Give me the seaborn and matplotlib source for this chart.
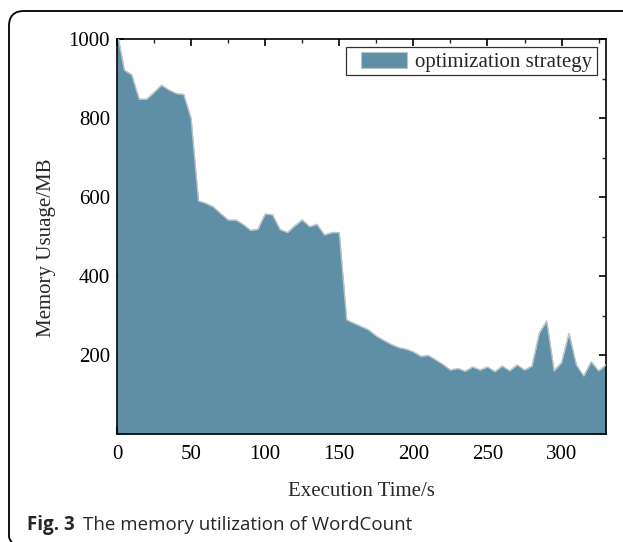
import matplotlib
matplotlib.use("Agg")
import matplotlib.pyplot as plt
import seaborn as sns
import pandas as pd
from matplotlib.patches import Patch, Rectangle
from matplotlib.path import Path
from matplotlib.patches import PathPatch

time_s = [0, 5, 10, 15, 20, 25, 30, 35, 40, 45, 50, 55, 60, 65, 70, 75, 80, 85, 90, 95,
          100, 105, 110, 115, 120, 125, 130, 135, 140, 145, 150, 155, 160, 165, 170, 175,
          180, 185, 190, 195, 200, 205, 210, 215, 220, 225, 230, 235, 240, 245, 250, 255,
          260, 265, 270, 275, 280, 285, 290, 295, 300, 305, 310, 315, 320, 325, 330]
memory_mb = [1020, 921, 909, 848, 848, 865, 883, 871, 862, 860, 799, 590, 584, 575, 558, 542,
             542, 531, 516, 518, 557, 555, 518, 510, 527, 542, 525, 531, 504, 510, 510, 289,
             280, 272, 263, 248, 237, 227, 219, 215, 208, 197, 199, 188, 176, 162, 166, 159,
             170, 162, 170, 158, 172, 160, 175, 162, 172, 256, 286, 160, 181, 255, 175, 147,
             183, 160, 175]
series_label = "optimization strategy"
x_ticks = [0, 50, 100, 150, 200, 250, 300]
y_ticks = [200, 400, 600, 800, 1000]

df = pd.DataFrame({"time": time_s, "memory": memory_mb})

sns.set_theme(style="ticks")
plt.rcParams["font.family"] = ["Liberation Serif", "DejaVu Serif"]

fill_color = "#5e8fa7"
edge_color = "#b9c3c8"

W, H = 623.0, 542.0
AX_L, AX_R, AX_T, AX_B = 117.0, 606.0, 39.0, 434.0
AW, AH = AX_R - AX_L, AX_B - AX_T
fig = plt.figure(figsize=(6.23, 5.42), dpi=100)
ax = fig.add_axes([AX_L / W, 1 - AX_B / H, AW / W, AH / H])

def axc(px, py):
    return ((px - AX_L) / AW, (AX_B - py) / AH)

ax.fill_between(df["time"], df["memory"], 0, color=fill_color, linewidth=0, zorder=2)
sns.lineplot(data=df, x="time", y="memory", ax=ax, color=edge_color, linewidth=1.0,
             legend=False, zorder=3)

ax.set_xlim(0, 330)
ax.set_ylim(0, 1000)
ax.set_xticks(x_ticks)
ax.set_yticks(y_ticks)
ax.set_xticks(list(range(25, 331, 50)), minor=True)
ax.set_yticks([100, 300, 500, 700, 900], minor=True)
ax.set_xticklabels([str(v) for v in x_ticks])
ax.set_yticklabels([str(v) for v in y_ticks])

ax.tick_params(axis="both", which="major", direction="in", length=5, width=1.2,
               top=True, right=True, labelsize=15, colors="black")
ax.tick_params(axis="y", which="major", pad=5)
ax.tick_params(axis="x", which="major", pad=8)
ax.tick_params(axis="both", which="minor", direction="in", length=3, width=1.0,
               top=True, right=True)
for s in ax.spines.values():
    s.set_visible(True)
    s.set_linewidth(1.2)
    s.set_color("black")

ax.set_xlabel("Execution Time/s", fontsize=15)
ax.set_ylabel("Memory Usuage/MB", fontsize=15)
ax.xaxis.set_label_coords(0.5, (AX_B - 482) / AH)
ax.yaxis.set_label_coords((56 - AX_L) / AW, (AX_B - 248) / AH)

# Legend (entry) with a separately drawn frame box
handle = Patch(facecolor=fill_color, edgecolor=edge_color, linewidth=0.8)
leg = ax.legend([handle], [series_label], loc="upper right",
                bbox_to_anchor=axc(596, 48),
                fontsize=15, frameon=False,
                handlelength=2.25, handleheight=0.8, borderpad=0.2, handletextpad=0.35,
                borderaxespad=0.0)
x0, y1 = axc(346, 47)
x1, y0 = axc(597, 75)
ax.add_patch(Rectangle((x0, y0), x1 - x0, y1 - y0, transform=ax.transAxes, fill=True,
                       facecolor="white", edgecolor="#333333", linewidth=0.9, zorder=4))
leg.set_zorder(5)

# Figure caption
cap_font = ["Open Sans", "DejaVu Sans"]
t1 = fig.text(27 / W, 1 - 530 / H, "Fig. 3", fontsize=13.5, fontweight="bold",
              family=cap_font, va="baseline", ha="left")
fig.canvas.draw()
bb = t1.get_window_extent(renderer=fig.canvas.get_renderer())
fig.text((bb.x1 + 8) / W, 1 - 530 / H, "The memory utilization of WordCount", fontsize=13.5,
         family=cap_font, va="baseline", ha="left")

# Rounded frame around figure (top and left edges)
def fx(px):
    return px / W
def fy(py):
    return 1 - py / H
verts = [(fx(623), fy(11)), (fx(24), fy(11)), (fx(9), fy(11)), (fx(9), fy(26)),
         (fx(9), fy(536)), (fx(9), fy(540)), (fx(12), fy(542))]
codes = [Path.MOVETO, Path.LINETO, Path.CURVE3, Path.CURVE3, Path.LINETO, Path.CURVE3, Path.CURVE3]
frame = PathPatch(Path(verts, codes), transform=fig.transFigure, fill=False,
                  edgecolor="black", linewidth=1.3)
fig.patches.append(frame)

fig.savefig("out.png", dpi=100)
